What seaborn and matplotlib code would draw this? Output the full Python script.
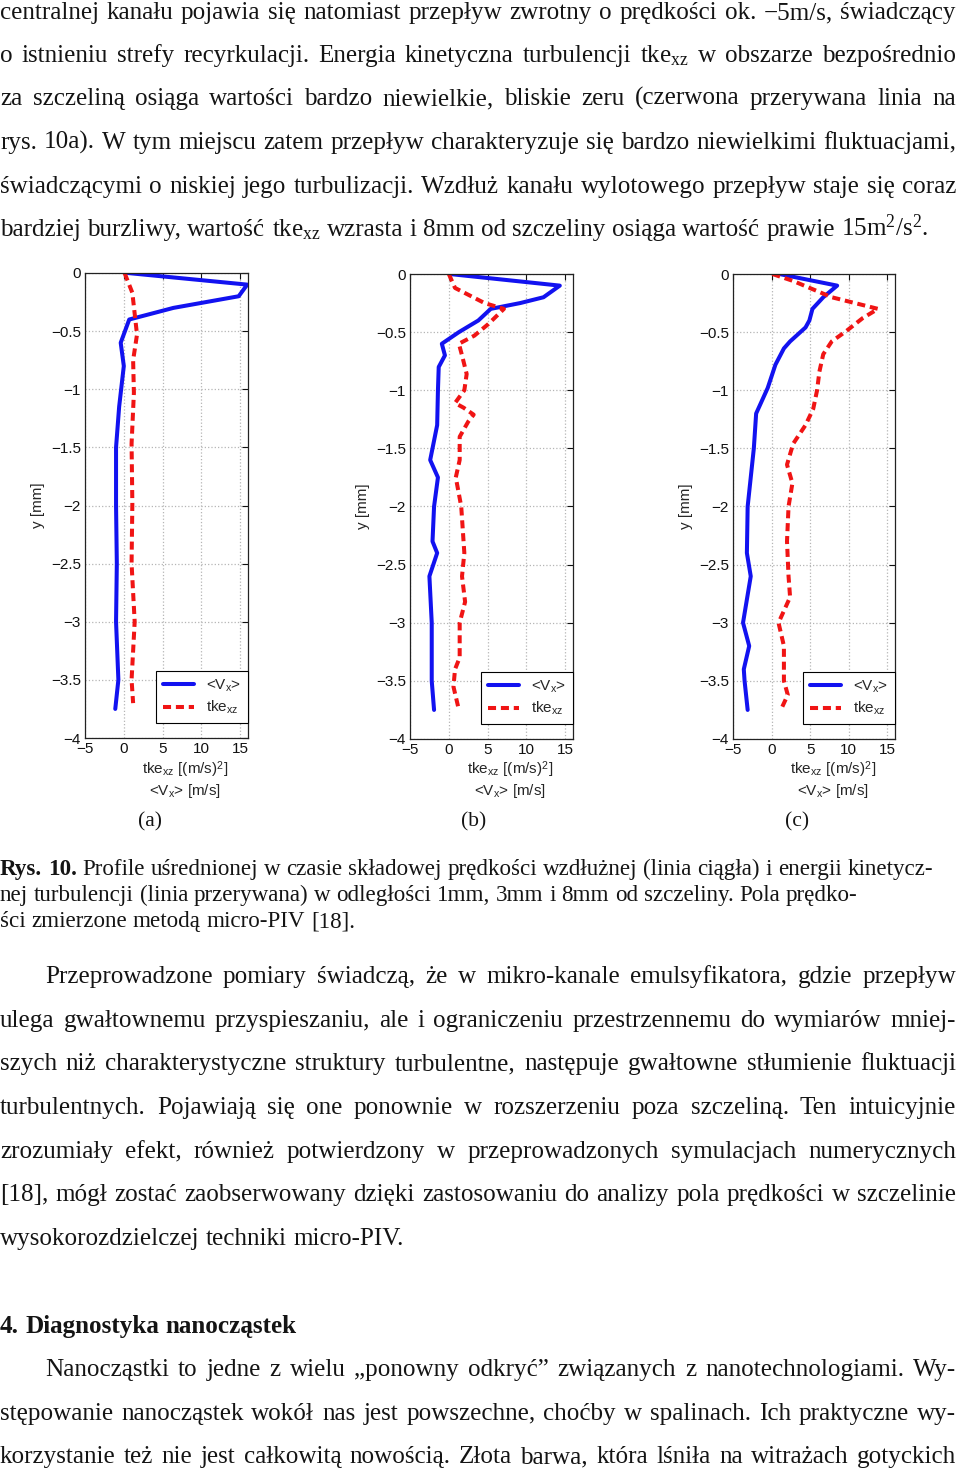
import numpy as np
import pandas as pd
import seaborn as sns
import matplotlib
matplotlib.use("Agg")
import matplotlib.pyplot as plt

sns.set_style("white")
plt.rcParams['font.family'] = ['Liberation Sans', 'DejaVu Sans']
plt.rcParams['mathtext.fontset'] = 'custom'
plt.rcParams['mathtext.rm'] = 'Liberation Serif'
plt.rcParams['mathtext.it'] = 'Liberation Serif:italic'
plt.rcParams['mathtext.bf'] = 'Liberation Serif:bold'
plt.rcParams['mathtext.sf'] = 'Liberation Sans'

# ---- profile data (y in mm, values in m/s or (m/s)^2) ----
# (a) 1 mm from the gap
ya_v = [0, -0.1, -0.2, -0.3, -0.4, -0.6, -0.8, -1.15, -1.5, -2.0, -2.5, -3.0, -3.5, -3.75]
va = [0.5, 15.9, 14.8, 6.4, 0.7, -0.4, 0.0, -0.6, -1.0, -1.0, -0.9, -1.0, -0.7, -1.1]
ya_t = [0, -0.17, -0.53, -0.75, -1.03, -1.47, -1.98, -2.5, -3.0, -3.5, -3.7]
ta = [0.1, 1.1, 1.7, 1.2, 1.3, 1.0, 1.1, 1.0, 1.4, 1.0, 1.2]

# (b) 3 mm from the gap
yb_v = [0, -0.1, -0.2, -0.25, -0.3, -0.4, -0.5, -0.6, -0.7, -0.8, -1.0, -1.3, -1.6,
        -1.75, -2.0, -2.3, -2.4, -2.6, -3.0, -3.5, -3.75]
vb = [0.1, 14.3, 12.2, 9.2, 5.4, 3.8, 1.3, -0.9, -0.5, -1.3, -1.4, -1.5, -2.4,
      -1.4, -1.9, -2.1, -1.5, -2.5, -2.2, -2.2, -1.9]
yb_t = [0, -0.12, -0.25, -0.3, -0.43, -0.53, -0.6, -0.7, -0.86, -1.0, -1.11, -1.15,
        -1.21, -1.27, -1.4, -1.6, -1.75, -2.0, -2.4, -2.6, -2.82, -3.0, -3.3, -3.4,
        -3.55, -3.75]
tb = [0.0, 0.8, 4.6, 7.1, 5.1, 3.3, 1.3, 1.7, 2.3, 2.0, 0.8, 1.9,
      3.2, 2.5, 1.4, 1.4, 0.9, 1.6, 2.0, 1.7, 2.1, 1.4, 1.4, 0.8,
      0.6, 1.3]

# (c) 8 mm from the gap
yc_v = [0, -0.1, -0.2, -0.3, -0.4, -0.46, -0.58, -0.64, -0.78, -0.98, -1.2, -1.5,
        -1.75, -2.0, -2.4, -2.6, -3.0, -3.2, -3.4, -3.5, -3.75]
vc = [1.0, 8.5, 6.7, 5.3, 4.9, 4.4, 2.4, 1.6, 0.5, -0.5, -2.0, -2.3,
      -2.7, -3.1, -3.2, -2.7, -3.7, -2.9, -3.6, -3.5, -3.1]
yc_t = [0, -0.06, -0.2, -0.3, -0.38, -0.49, -0.58, -0.69, -0.84, -1.0, -1.16, -1.3,
        -1.46, -1.64, -1.8, -2.0, -2.3, -2.6, -2.78, -3.0, -3.2, -3.5, -3.62, -3.75]
tc = [0.1, 2.8, 7.8, 13.8, 11.8, 9.7, 7.8, 6.7, 6.2, 5.9, 5.4, 4.4,
      2.8, 2.0, 2.7, 2.2, 2.0, 2.2, 2.4, 0.9, 1.6, 1.6, 2.1, 1.2]

panel_names = ['(a)', '(b)', '(c)']
x_ticks = [-5, 0, 5, 10, 15]
x_ticklabels = ['\u22125', '0', '5', '10', '15']
y_ticks = [-4, -3.5, -3, -2.5, -2, -1.5, -1, -0.5, 0]
y_ticklabels = ['\u22124', '\u22123.5', '\u22123', '\u22122.5', '\u22122',
                '\u22121.5', '\u22121', '\u22120.5', '0']

# ---- page text ----
para1 = [
    "centralnej kanału pojawia się natomiast przepływ zwrotny o prędkości ok. \u22125m/s, świadczący",
    r"o istnieniu strefy recyrkulacji. Energia kinetyczna turbulencji tke$_\mathrm{xz}$ w obszarze bezpośrednio",
    "za szczeliną osiąga wartości bardzo niewielkie, bliskie zeru (czerwona przerywana linia na",
    "rys. 10a). W tym miejscu zatem przepływ charakteryzuje się bardzo niewielkimi fluktuacjami,",
    "świadczącymi o niskiej jego turbulizacji. Wzdłuż kanału wylotowego przepływ staje się coraz",
    r"bardziej burzliwy, wartość tke$_\mathrm{xz}$ wzrasta i 8mm od szczeliny osiąga wartość prawie 15m$^2$/s$^2$.",
]
caption = [
    "Rys. 10. Profile uśrednionej w czasie składowej prędkości wzdłużnej (linia ciągła) i energii kinetycz-",
    "nej turbulencji (linia przerywana) w odległości 1mm, 3mm i 8mm od szczeliny. Pola prędko-",
    "ści zmierzone metodą micro-PIV [18].",
]
para2 = [
    "Przeprowadzone pomiary świadczą, że w mikro-kanale emulsyfikatora, gdzie przepływ",
    "ulega gwałtownemu przyspieszaniu, ale i ograniczeniu przestrzennemu do wymiarów mniej-",
    "szych niż charakterystyczne struktury turbulentne, następuje gwałtowne stłumienie fluktuacji",
    "turbulentnych. Pojawiają się one ponownie w rozszerzeniu poza szczeliną. Ten intuicyjnie",
    "zrozumiały efekt, również potwierdzony w przeprowadzonych symulacjach numerycznych",
    "[18], mógł zostać zaobserwowany dzięki zastosowaniu do analizy pola prędkości w szczelinie",
    "wysokorozdzielczej techniki micro-PIV.",
]
heading = "4. Diagnostyka nanocząstek"
para3 = [
    "Nanocząstki to jedne z wielu „ponowny odkryć” związanych z nanotechnologiami. Wy-",
    "stępowanie nanocząstek wokół nas jest powszechne, choćby w spalinach. Ich praktyczne wy-",
    "korzystanie też nie jest całkowitą nowością. Złota barwa, która lśniła na witrażach gotyckich",
]

BLUE = '#1212f0'
RED = '#f01414'
SERIF = 'Liberation Serif'
INK = '#141414'
W, H = 960, 1470

fig = plt.figure(figsize=(W / 100, H / 100), dpi=100)
fig.patch.set_facecolor('white')
page = fig.add_axes([0, 0, 1, 1])
page.set_xlim(0, W)
page.set_ylim(H, 0)
page.axis('off')
renderer = fig.canvas.get_renderer()


def text_width(s, size, weight='normal'):
    t = page.text(0, 0, s, fontsize=size, family=SERIF, fontweight=weight)
    w = t.get_window_extent(renderer).width
    t.remove()
    return w


def put_line(line, y, size, x0=0, x1=956, justify=True, n_bold=0):
    words = line.split(' ')
    weights = ['bold' if i < n_bold else 'normal' for i in range(len(words))]
    widths = [text_width(w, size, wt) for w, wt in zip(words, weights)]
    if justify and len(words) > 1:
        gap = (x1 - x0 - sum(widths)) / (len(words) - 1)
    else:
        gap = 0.25 * size * 100 / 72
    x = x0
    for w, wt, wd in zip(words, weights, widths):
        page.text(x, y, w, fontsize=size, family=SERIF, fontweight=wt,
                  va='baseline', ha='left', color=INK)
        x += wd + gap


# font size so that the widest justified line fits the column
base = 16
just_lines = para1[:-1] + para2[:-1] + para3
widest = max(text_width(l, base) + (45 if l in (para2[0], para3[0]) else 0)
             for l in just_lines)
body = base * 950 / widest
cap = base * 940 / (text_width(caption[0], base) + 8)

for i, (line, y) in enumerate(zip(para1, [19, 62, 105, 149, 193, 236])):
    put_line(line, y, body, justify=i < len(para1) - 1)

put_line(caption[0], 875, cap, justify=False, n_bold=2)
put_line(caption[1], 901, cap, justify=False)
put_line(caption[2], 927, cap, justify=False)

for i, (line, y) in enumerate(zip(para2, [983, 1027, 1070, 1114, 1158, 1201, 1245])):
    put_line(line, y, body, x0=45 if i == 0 else 0, justify=i < len(para2) - 1)

put_line(heading, 1333, body, justify=False, n_bold=3)

for i, (line, y) in enumerate(zip(para3, [1376, 1420, 1463])):
    put_line(line, y, body, x0=45 if i == 0 else 0, justify=True)

# ---- the three profile panels ----
boxes = [(85, 248, 273, 738), (410, 573, 274, 739), (733, 895, 274, 739)]
series = [(va, ya_v, ta, ya_t), (vb, yb_v, tb, yb_t), (vc, yc_v, tc, yc_t)]
letter_x = [150, 474, 797]

for (l, r, t, b), (v, yv, tk, yt), name, lx in zip(boxes, series, panel_names, letter_x):
    ax = fig.add_axes([l / W, 1 - b / H, (r - l) / W, (b - t) / H])
    ax.set_facecolor('white')
    dv = pd.DataFrame({'x': v, 'y': yv})
    dt = pd.DataFrame({'x': tk, 'y': yt})
    sns.lineplot(data=dv, x='x', y='y', orient='y', sort=False, estimator=None,
                 color=BLUE, lw=2.9, ax=ax, label=r'<V$_\mathsf{x}$>')
    sns.lineplot(data=dt, x='x', y='y', orient='y', sort=False, estimator=None,
                 color=RED, lw=2.9, ax=ax, label=r'tke$_\mathsf{xz}$')
    ax.lines[-1].set_dashes([2.0, 1.2])
    ax.lines[-1].set_dash_capstyle('butt')

    ax.set_xlim(-5, 16)
    ax.set_ylim(-4, 0)
    ax.set_xticks(x_ticks)
    ax.set_xticklabels(x_ticklabels)
    ax.set_yticks(y_ticks)
    ax.set_yticklabels(y_ticklabels)
    ax.tick_params(direction='in', top=True, right=True, length=4, width=0.8,
                   labelsize=11, pad=3, colors='#111111')
    ax.grid(True, ls=':', color='#b5b5b5', lw=0.9)
    for s in ax.spines.values():
        s.set_color('#222222')
        s.set_linewidth(0.9)

    ax.set_xlabel('')
    ax.set_ylabel('y [mm]', fontsize=11)
    ax.yaxis.set_label_coords(-40 / (r - l), 0.5)
    ax.text(0.615, (b - 770) / (b - t), r'tke$_\mathsf{xz}$ [(m/s)$^\mathsf{2}$]',
            transform=ax.transAxes, ha='center', va='center', fontsize=11)
    ax.text(0.615, (b - 791) / (b - t), r'<V$_\mathsf{x}$> [m/s]',
            transform=ax.transAxes, ha='center', va='center', fontsize=11)

    leg = ax.legend(loc='lower right', bbox_to_anchor=(1.0, 0.032), borderaxespad=0,
                    frameon=True, fancybox=False, edgecolor='black', framealpha=1,
                    fontsize=11, handlelength=2.0, borderpad=0.45, labelspacing=0.35,
                    handletextpad=0.8)
    leg.get_frame().set_linewidth(0.8)

    page.text(lx, 822, name, family=SERIF, fontsize=15.5, ha='center', va='center',
              color=INK)

fig.savefig('out.png', dpi=100, facecolor='white')
